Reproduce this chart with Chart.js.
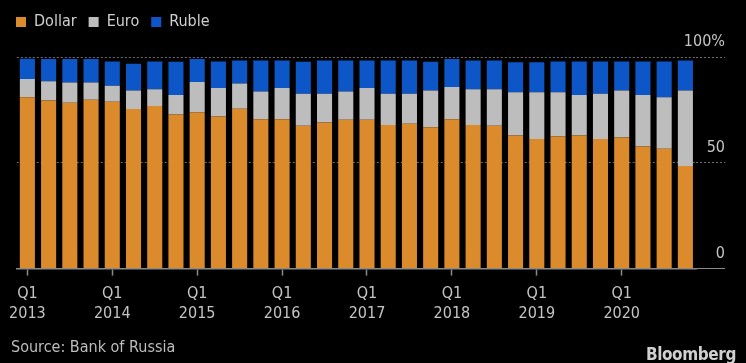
<!DOCTYPE html>
<html>
<head>
<meta charset="utf-8">
<script src="https://cdn.jsdelivr.net/npm/chart.js@4"></script>
<style>
  html, body { margin: 0; padding: 0; background: #000; }
  #wrap { position: relative; width: 746px; height: 363px; background: #000; overflow: hidden; }
  #chart { position: absolute; left: 0; top: 0; }
  .note { position: absolute; font-family: 'DejaVu Sans Condensed', 'DejaVu Sans', sans-serif; color: #bdbdbd; font-size: 16px; line-height: 16px; }
  #source { left: 11px; top: 339px; }
  #brand { right: 10px; top: 346px; font-weight: bold; color: #d0d0d0; font-size: 17px; letter-spacing: -0.4px; }
</style>
</head>
<body>
<div id="wrap">
  <canvas id="chart" width="746" height="363"></canvas>
  <div id="source" class="note">Source: Bank of Russia</div>
  <div id="brand" class="note">Bloomberg</div>
</div>
<script>
// --- DATA (share of Russia's reserves by currency, %) ---
const quarters = [
  'Q1 2013', 'Q2 2013', 'Q3 2013', 'Q4 2013',
  'Q1 2014', 'Q2 2014', 'Q3 2014', 'Q4 2014',
  'Q1 2015', 'Q2 2015', 'Q3 2015', 'Q4 2015',
  'Q1 2016', 'Q2 2016', 'Q3 2016', 'Q4 2016',
  'Q1 2017', 'Q2 2017', 'Q3 2017', 'Q4 2017',
  'Q1 2018', 'Q2 2018', 'Q3 2018', 'Q4 2018',
  'Q1 2019', 'Q2 2019', 'Q3 2019', 'Q4 2019',
  'Q1 2020', 'Q2 2020', 'Q3 2020', 'Q4 2020'
];

const dollar = [
  81.0, 79.5, 78.4, 79.8, 78.8, 75.4, 76.8, 72.8,
  73.9, 71.9, 75.5, 70.6, 70.6, 67.5, 69.0, 70.3,
  70.3, 67.9, 68.4, 66.8, 70.6, 67.9, 67.5, 62.9,
  61.3, 62.4, 62.9, 61.3, 61.9, 57.7, 56.6, 48.5
];

const euro = [
  8.6, 9.0, 9.6, 8.2, 7.6, 8.8, 8.0, 9.3,
  14.3, 13.4, 12.0, 13.1, 14.7, 15.1, 13.6, 13.4,
  15.0, 14.7, 14.2, 17.4, 15.2, 16.9, 17.3, 20.4,
  22.0, 20.9, 19.2, 21.3, 22.3, 24.4, 24.4, 35.7
];

const ruble = [
  9.6, 10.6, 11.1, 11.1, 11.5, 12.6, 13.1, 15.7,
  10.9, 12.6, 10.9, 14.7, 13.1, 15.2, 15.8, 14.7,
  13.1, 15.8, 15.8, 13.6, 13.3, 13.6, 13.6, 14.2,
  14.2, 14.6, 15.8, 15.3, 13.7, 15.8, 16.9, 14.2
];

const yTicks = [0, 50, 100];

const FONT = "'DejaVu Sans Condensed', 'DejaVu Sans', sans-serif";
const TEXT = '#c4c4c4';
const AXIS = '#8a8a8a';

function isQ1(i) {
  return quarters[i] && quarters[i].startsWith('Q1');
}

// push the plot down a bit below the legend
const legendGap = {
  id: 'legendGap',
  beforeInit(chart) {
    const fit = chart.legend.fit;
    chart.legend.fit = function () {
      fit.call(this);
      this.height += 17;
    };
  }
};

new Chart(document.getElementById('chart'), {
  type: 'bar',
  data: {
    labels: quarters,
    datasets: [
      { label: 'Dollar', data: dollar, backgroundColor: '#dc8b2c' },
      { label: 'Euro', data: euro, backgroundColor: '#bdbdbd' },
      { label: 'Ruble', data: ruble, backgroundColor: '#0c56c8' }
    ]
  },
  options: {
    responsive: false,
    animation: false,
    layout: { padding: { left: 4, right: 21, top: 2, bottom: 31 } },
    datasets: { bar: { categoryPercentage: 1, barPercentage: 0.71 } },
    plugins: {
      legend: {
        position: 'top',
        align: 'start',
        labels: {
          color: '#cfcfcf',
          font: { family: FONT, size: 16 },
          boxWidth: 10,
          boxHeight: 10,
          padding: 12
        }
      },
      tooltip: { enabled: false }
    },
    scales: {
      x: {
        stacked: true,
        grid: {
          offset: false,
          drawOnChartArea: false,
          tickLength: 7,
          tickWidth: 1.5,
          tickColor: (c) => isQ1(c.index) ? AXIS : 'transparent'
        },
        border: { color: AXIS, width: 1.5 },
        ticks: {
          autoSkip: false,
          maxRotation: 0,
          padding: 9,
          color: TEXT,
          font: { family: FONT, size: 16 },
          callback: (v, i) => isQ1(i) ? quarters[i].split(' ') : ''
        }
      },
      y: {
        stacked: true,
        position: 'right',
        min: 0,
        max: 100,
        afterBuildTicks: (s) => { s.ticks = yTicks.map(v => ({ value: v })); },
        afterFit: (s) => { s.width = 29; },
        grid: {
          color: (c) => c.tick && c.tick.value === 0 ? AXIS : '#6e6e6e',
          lineWidth: 1,
          tickLength: 29,
          tickColor: (c) => c.tick && c.tick.value === 0 ? AXIS : '#6e6e6e',
          tickBorderDash: (c) => c.tick && c.tick.value === 0 ? [] : [2, 2]
        },
        border: { display: false, dash: [2, 2] },
        ticks: {
          mirror: true,
          padding: 29,
          labelOffset: -15,
          color: TEXT,
          font: { family: FONT, size: 16 },
          callback: (v) => v === 100 ? '100%' : v
        }
      }
    }
  },
  plugins: [legendGap]
});
</script>
</body>
</html>
